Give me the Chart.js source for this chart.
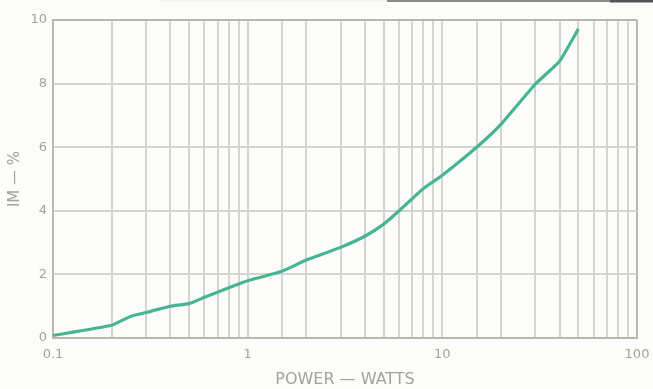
<!DOCTYPE html>
<html>
<head>
<meta charset="utf-8">
<script src="https://cdn.jsdelivr.net/npm/chart.js@4"></script>
<style>
  html, body { margin: 0; padding: 0; background: #fcfcfa; }
  #wrap { width: 653px; height: 389px; }
</style>
</head>
<body>
<div id="wrap"><canvas id="chart" width="653" height="389"></canvas></div>
<script>
// Intermodulation distortion versus output power
const powerWatts = [0.1, 0.2, 0.25, 0.3, 0.4, 0.5, 0.6, 0.7, 0.8, 0.9, 1, 1.5, 2, 3, 4, 5, 6, 7, 8, 10, 15, 20, 30, 40, 50];
const imPercent  = [0.08, 0.4, 0.68, 0.8, 1.0, 1.08, 1.28, 1.44, 1.58, 1.7, 1.8, 2.1, 2.45, 2.85, 3.2, 3.58, 4.0, 4.38, 4.7, 5.12, 6.0, 6.72, 7.98, 8.7, 9.72];

const xTickLabels = ['0.1', '1', '10', '100'];
const yTickLabels = ['0', '2', '4', '6', '8', '10'];

const xTitle = 'POWER — WATTS';
const yTitle = 'IM — %';

const inkGray = '#a2a39a';
const gridGray = '#d4d4d2';
const frameGray = '#b7b9ad';

const points = powerWatts.map((p, i) => ({ x: p, y: imPercent[i] }));

// paper background and the thin rule along the top edge of the sheet
const paper = {
  id: 'paper',
  beforeDraw(chart) {
    const { ctx, width, height } = chart;
    ctx.save();
    ctx.fillStyle = '#fcfcfa';
    ctx.fillRect(0, 0, width, height);
    ctx.restore();
  },
  afterDraw(chart) {
    const { ctx } = chart;
    ctx.save();
    ctx.fillStyle = '#f1f1ef';
    ctx.fillRect(160, 0, 227, 1.5);
    ctx.fillStyle = '#8a8a88';
    ctx.fillRect(387, 0, 223, 2);
    ctx.fillStyle = '#555555';
    ctx.fillRect(610, 0, 43, 2.5);
    ctx.restore();
  }
};

new Chart(document.getElementById('chart'), {
  type: 'line',
  data: {
    datasets: [{
      data: points,
      borderColor: '#47b496',
      borderWidth: 3.2,
      pointRadius: 0,
      tension: 0.15,
      fill: false
    }]
  },
  options: {
    responsive: false,
    animation: false,
    devicePixelRatio: 1,
    layout: { padding: { top: 20, right: 16, left: 0, bottom: 0 } },
    plugins: { legend: { display: false }, tooltip: { enabled: false } },
    scales: {
      x: {
        type: 'logarithmic',
        min: 0.1,
        max: 100,
        afterFit(scale) {
          scale.height = 51;
          scale.paddingLeft = 0;
          scale.paddingRight = 0;
        },
        border: { display: true, color: frameGray, width: 2 },
        grid: {
          drawTicks: false,
          color: (c) => (c.tick && c.tick.value === 100) ? frameGray : gridGray,
          lineWidth: 2
        },
        ticks: {
          autoSkip: false,
          maxRotation: 0,
          padding: 9,
          color: inkGray,
          font: { family: 'DejaVu Sans', size: 13 },
          callback(value) {
            const s = String(Number(value.toPrecision(3)));
            return xTickLabels.includes(s) ? s : '';
          }
        },
        title: {
          display: true,
          text: xTitle,
          color: inkGray,
          font: { family: 'DejaVu Sans', size: 16 },
          padding: { top: 0, bottom: 0 }
        }
      },
      y: {
        type: 'linear',
        min: 0,
        max: 10,
        afterFit(scale) {
          scale.width = 53;
          scale.paddingTop = 0;
          scale.paddingBottom = 0;
        },
        border: { display: true, color: frameGray, width: 2 },
        grid: {
          drawTicks: false,
          color: (c) => (c.tick && c.tick.value === 10) ? frameGray : gridGray,
          lineWidth: 2
        },
        ticks: {
          stepSize: 2,
          padding: 6,
          color: inkGray,
          font: { family: 'DejaVu Sans', size: 13 },
          callback(value) {
            const s = String(value);
            return yTickLabels.includes(s) ? s : '';
          }
        },
        title: {
          display: true,
          text: yTitle,
          color: inkGray,
          font: { family: 'DejaVu Sans', size: 15 },
          padding: { top: 6, bottom: 0 }
        }
      }
    }
  },
  plugins: [paper]
});
</script>
</body>
</html>
